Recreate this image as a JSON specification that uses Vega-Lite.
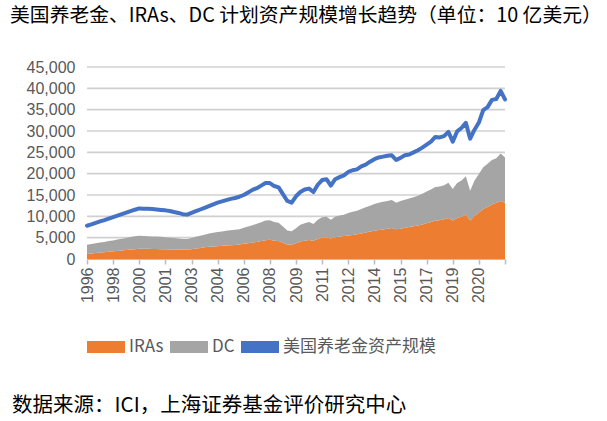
{
  "$schema": "https://vega.github.io/schema/vega-lite/v6.json",
  "background": "white",
  "padding": {"left": 10, "top": 6, "right": 0, "bottom": 5},
  "title": {
    "text": "美国养老金、IRAs、DC 计划资产规模增长趋势（单位：10 亿美元）",
    "anchor": "start",
    "font": "Noto Sans CJK SC",
    "fontSize": 19.8,
    "fontWeight": "normal",
    "color": "#000000",
    "offset": 33,
    "dx": -2
  },
  "vconcat": [
    {
      "title": {
        "text": "数据来源：ICI，上海证券基金评价研究中心",
        "orient": "bottom",
        "anchor": "start",
        "font": "Noto Sans CJK SC",
        "fontSize": 20.5,
        "fontWeight": "normal",
        "color": "#000000",
        "offset": 41,
        "dx": -14
      },
      "resolve": {"scale": {"color": "independent"}, "legend": {"color": "independent"}},
      "vconcat": [
        {
          "width": 418,
          "height": 192,
          "layer": [
            {
              "data": {"values": [{"g": 5000}, {"g": 10000}, {"g": 15000}, {"g": 20000}, {"g": 25000}, {"g": 30000}, {"g": 35000}, {"g": 40000}, {"g": 45000}]},
              "mark": {"type": "rule", "color": "#D0D0D0", "strokeWidth": 1.6},
              "encoding": {
                "y": {
                  "field": "g",
                  "type": "quantitative",
                  "scale": {"domain": [0, 45000], "nice": false},
                  "axis": {
                    "title": null,
                    "values": [0, 5000, 10000, 15000, 20000, 25000, 30000, 35000, 40000, 45000],
                    "format": ",.0f",
                    "grid": false,
                    "ticks": false,
                    "domain": false,
                    "labelPadding": 12
                  }
                }
              }
            },
            {
              "data": {"name": "assets"},
              "transform": [{"fold": ["IRAs", "DC"], "as": ["series", "value"]}],
              "mark": {"type": "area", "opacity": 1},
              "encoding": {
                "x": {
                  "field": "p",
                  "type": "ordinal",
                  "sort": null,
                  "scale": {"padding": 0},
                  "axis": {
                    "title": null,
                    "values": ["1996-01", "1998-01", "2000-01", "2001-01", "2003-01", "2004-01", "2006-01", "2008-01", "2009-01", "2011-01", "2012-01", "2014-01", "2015-01", "2017-01", "2019-01", "2020-01", "2022-01"],
                    "labelExpr": "datum.value == '2022-01' ? '' : slice(datum.value, 0, 4)",
                    "labelAngle": -90,
                    "labelPadding": 3,
                    "ticks": true,
                    "tickSize": 5,
                    "tickWidth": 1.6,
                    "grid": false
                  }
                },
                "y": {
                  "field": "value",
                  "type": "quantitative",
                  "stack": "zero",
                  "scale": {"domain": [0, 45000], "nice": false},
                  "axis": {
                    "title": null,
                    "values": [0, 5000, 10000, 15000, 20000, 25000, 30000, 35000, 40000, 45000],
                    "format": ",.0f",
                    "grid": false,
                    "ticks": false,
                    "domain": false,
                    "labelPadding": 12
                  }
                },
                "order": {"field": "series", "sort": "descending"},
                "color": {
                  "field": "series",
                  "type": "nominal",
                  "scale": {
                    "domain": ["IRAs", "DC", "美国养老金资产规模"],
                    "range": ["#ED7D31", "#A5A5A5", "#4472C4"]
                  },
                  "legend": {
                    "title": null,
                    "orient": "bottom",
                    "direction": "horizontal",
                    "symbolType": "M-1,-0.32H1V0.32H-1Z",
                    "symbolSize": 1444,
                    "symbolStrokeWidth": 0,
                    "labelFont": "Noto Sans CJK SC",
                    "labelFontSize": 17,
                    "labelColor": "#595959",
                    "labelOffset": 4,
                    "columnPadding": 6,
                    "offset": 25,
                    "encode": {
                      "symbols": {
                        "update": {
                          "shape": {"signal": "datum.value === '美国养老金资产规模' ? 'M-1.1,-0.1H1.1V0.1H-1.1Z' : 'M-1,-0.32H1V0.32H-1Z'"},
                          "fill": {"scale": "color", "field": "value"},
                          "stroke": {"value": "transparent"},
                          "opacity": {"value": 1},
                          "fillOpacity": {"value": 1}
                        }
                      }
                    }
                  }
                }
              }
            },
            {
              "data": {"name": "assets"},
              "mark": {"type": "line", "strokeWidth": 4, "strokeJoin": "round", "strokeCap": "round"},
              "encoding": {
                "x": {
                  "field": "p",
                  "type": "ordinal",
                  "sort": null,
                  "scale": {"padding": 0},
                  "axis": {
                    "title": null,
                    "values": ["1996-01", "1998-01", "2000-01", "2001-01", "2003-01", "2004-01", "2006-01", "2008-01", "2009-01", "2011-01", "2012-01", "2014-01", "2015-01", "2017-01", "2019-01", "2020-01", "2022-01"],
                    "labelExpr": "datum.value == '2022-01' ? '' : slice(datum.value, 0, 4)",
                    "labelAngle": -90,
                    "labelPadding": 3,
                    "ticks": true,
                    "tickSize": 5,
                    "tickWidth": 1.6,
                    "grid": false
                  }
                },
                "y": {
                  "field": "total",
                  "type": "quantitative",
                  "scale": {"domain": [0, 45000], "nice": false},
                  "axis": {
                    "title": null,
                    "values": [0, 5000, 10000, 15000, 20000, 25000, 30000, 35000, 40000, 45000],
                    "format": ",.0f",
                    "grid": false,
                    "ticks": false,
                    "domain": false,
                    "labelPadding": 12
                  }
                },
                "color": {"datum": "美国养老金资产规模", "type": "nominal"}
              }
            }
          ]
        }
      ]
    }
  ],
  "datasets": {
    "assets": [
      {"p": "1996-01", "IRAs": 1200, "DC": 2150, "total": 7800},
      {"p": "1996-05", "IRAs": 1300, "DC": 2200, "total": 8100},
      {"p": "1996-09", "IRAs": 1400, "DC": 2300, "total": 8450},
      {"p": "1997-01", "IRAs": 1500, "DC": 2350, "total": 8800},
      {"p": "1997-05", "IRAs": 1600, "DC": 2400, "total": 9100},
      {"p": "1997-09", "IRAs": 1700, "DC": 2500, "total": 9450},
      {"p": "1998-01", "IRAs": 1800, "DC": 2550, "total": 9800},
      {"p": "1998-05", "IRAs": 1900, "DC": 2650, "total": 10150},
      {"p": "1998-09", "IRAs": 2000, "DC": 2750, "total": 10500},
      {"p": "1999-01", "IRAs": 2100, "DC": 2850, "total": 10850},
      {"p": "1999-05", "IRAs": 2200, "DC": 2950, "total": 11200},
      {"p": "1999-09", "IRAs": 2300, "DC": 3050, "total": 11550},
      {"p": "2000-01", "IRAs": 2400, "DC": 3050, "total": 11850},
      {"p": "2000-03", "IRAs": 2400, "DC": 3000, "total": 11800},
      {"p": "2000-05", "IRAs": 2400, "DC": 2950, "total": 11750},
      {"p": "2000-07", "IRAs": 2350, "DC": 2950, "total": 11700},
      {"p": "2000-09", "IRAs": 2350, "DC": 2900, "total": 11600},
      {"p": "2000-11", "IRAs": 2300, "DC": 2900, "total": 11500},
      {"p": "2001-01", "IRAs": 2300, "DC": 2800, "total": 11400},
      {"p": "2001-05", "IRAs": 2250, "DC": 2750, "total": 11250},
      {"p": "2001-09", "IRAs": 2250, "DC": 2650, "total": 11000},
      {"p": "2002-01", "IRAs": 2200, "DC": 2600, "total": 10800},
      {"p": "2002-05", "IRAs": 2200, "DC": 2500, "total": 10500},
      {"p": "2002-09", "IRAs": 2200, "DC": 2500, "total": 10400},
      {"p": "2003-01", "IRAs": 2300, "DC": 2650, "total": 10800},
      {"p": "2003-03", "IRAs": 2450, "DC": 2750, "total": 11200},
      {"p": "2003-05", "IRAs": 2600, "DC": 2850, "total": 11600},
      {"p": "2003-07", "IRAs": 2750, "DC": 2950, "total": 12000},
      {"p": "2003-09", "IRAs": 2850, "DC": 3100, "total": 12400},
      {"p": "2003-11", "IRAs": 2950, "DC": 3200, "total": 12800},
      {"p": "2004-01", "IRAs": 3000, "DC": 3300, "total": 13200},
      {"p": "2004-05", "IRAs": 3100, "DC": 3350, "total": 13500},
      {"p": "2004-09", "IRAs": 3150, "DC": 3450, "total": 13800},
      {"p": "2005-01", "IRAs": 3250, "DC": 3500, "total": 14100},
      {"p": "2005-05", "IRAs": 3300, "DC": 3550, "total": 14300},
      {"p": "2005-09", "IRAs": 3400, "DC": 3600, "total": 14600},
      {"p": "2006-01", "IRAs": 3550, "DC": 3750, "total": 15000},
      {"p": "2006-05", "IRAs": 3700, "DC": 3900, "total": 15600},
      {"p": "2006-09", "IRAs": 3850, "DC": 4050, "total": 16200},
      {"p": "2007-01", "IRAs": 4000, "DC": 4250, "total": 16600},
      {"p": "2007-05", "IRAs": 4200, "DC": 4400, "total": 17200},
      {"p": "2007-09", "IRAs": 4400, "DC": 4600, "total": 17800},
      {"p": "2008-01", "IRAs": 4500, "DC": 4600, "total": 17800},
      {"p": "2008-03", "IRAs": 4300, "DC": 4400, "total": 17100},
      {"p": "2008-05", "IRAs": 4200, "DC": 4300, "total": 16800},
      {"p": "2008-07", "IRAs": 3800, "DC": 3800, "total": 15200},
      {"p": "2008-09", "IRAs": 3400, "DC": 3300, "total": 13600},
      {"p": "2008-11", "IRAs": 3350, "DC": 3150, "total": 13200},
      {"p": "2009-01", "IRAs": 3700, "DC": 3500, "total": 14700},
      {"p": "2009-05", "IRAs": 4100, "DC": 3900, "total": 15700},
      {"p": "2009-09", "IRAs": 4300, "DC": 4100, "total": 16300},
      {"p": "2010-01", "IRAs": 4450, "DC": 4250, "total": 16500},
      {"p": "2010-05", "IRAs": 4300, "DC": 3900, "total": 15700},
      {"p": "2010-09", "IRAs": 4700, "DC": 4500, "total": 17400},
      {"p": "2011-01", "IRAs": 5000, "DC": 4800, "total": 18500},
      {"p": "2011-03", "IRAs": 5050, "DC": 4850, "total": 18700},
      {"p": "2011-05", "IRAs": 4800, "DC": 4400, "total": 17200},
      {"p": "2011-07", "IRAs": 5100, "DC": 4800, "total": 18700},
      {"p": "2011-09", "IRAs": 5300, "DC": 4900, "total": 19200},
      {"p": "2011-11", "IRAs": 5400, "DC": 5000, "total": 19600},
      {"p": "2012-01", "IRAs": 5500, "DC": 5300, "total": 20400},
      {"p": "2012-05", "IRAs": 5650, "DC": 5450, "total": 20800},
      {"p": "2012-09", "IRAs": 5800, "DC": 5500, "total": 21000},
      {"p": "2013-01", "IRAs": 6000, "DC": 5700, "total": 21700},
      {"p": "2013-05", "IRAs": 6200, "DC": 5900, "total": 22100},
      {"p": "2013-09", "IRAs": 6450, "DC": 6050, "total": 22800},
      {"p": "2014-01", "IRAs": 6600, "DC": 6300, "total": 23400},
      {"p": "2014-03", "IRAs": 6800, "DC": 6400, "total": 23800},
      {"p": "2014-05", "IRAs": 6900, "DC": 6500, "total": 24000},
      {"p": "2014-07", "IRAs": 7100, "DC": 6500, "total": 24200},
      {"p": "2014-09", "IRAs": 7250, "DC": 6550, "total": 24300},
      {"p": "2014-11", "IRAs": 7000, "DC": 6200, "total": 23200},
      {"p": "2015-01", "IRAs": 7100, "DC": 6500, "total": 23700},
      {"p": "2015-05", "IRAs": 7300, "DC": 6600, "total": 24300},
      {"p": "2015-09", "IRAs": 7500, "DC": 6700, "total": 24500},
      {"p": "2016-01", "IRAs": 7650, "DC": 6850, "total": 25000},
      {"p": "2016-05", "IRAs": 7850, "DC": 6950, "total": 25500},
      {"p": "2016-09", "IRAs": 8100, "DC": 7200, "total": 26100},
      {"p": "2017-01", "IRAs": 8350, "DC": 7450, "total": 26800},
      {"p": "2017-05", "IRAs": 8650, "DC": 7650, "total": 27500},
      {"p": "2017-09", "IRAs": 9000, "DC": 7900, "total": 28600},
      {"p": "2018-01", "IRAs": 9100, "DC": 7900, "total": 28500},
      {"p": "2018-05", "IRAs": 9300, "DC": 8000, "total": 28800},
      {"p": "2018-09", "IRAs": 9600, "DC": 8300, "total": 29800},
      {"p": "2019-01", "IRAs": 9000, "DC": 7400, "total": 27500},
      {"p": "2019-03", "IRAs": 9600, "DC": 8200, "total": 29900},
      {"p": "2019-05", "IRAs": 9900, "DC": 8500, "total": 30700},
      {"p": "2019-07", "IRAs": 10400, "DC": 9000, "total": 31900},
      {"p": "2019-09", "IRAs": 9000, "DC": 7000, "total": 28200},
      {"p": "2019-11", "IRAs": 10100, "DC": 8300, "total": 30300},
      {"p": "2020-01", "IRAs": 10900, "DC": 9000, "total": 32000},
      {"p": "2020-05", "IRAs": 11700, "DC": 9800, "total": 34900},
      {"p": "2020-09", "IRAs": 12200, "DC": 10100, "total": 35600},
      {"p": "2021-01", "IRAs": 12800, "DC": 10400, "total": 37300},
      {"p": "2021-05", "IRAs": 13200, "DC": 10400, "total": 37500},
      {"p": "2021-09", "IRAs": 13600, "DC": 11100, "total": 39400},
      {"p": "2022-01", "IRAs": 13200, "DC": 10600, "total": 37400}
    ]
  },
  "config": {
    "view": {"stroke": null},
    "axis": {
      "labelFont": "Liberation Sans",
      "labelFontSize": 16,
      "labelColor": "#595959",
      "domainColor": "#BFBFBF",
      "tickColor": "#BFBFBF"
    }
  }
}
